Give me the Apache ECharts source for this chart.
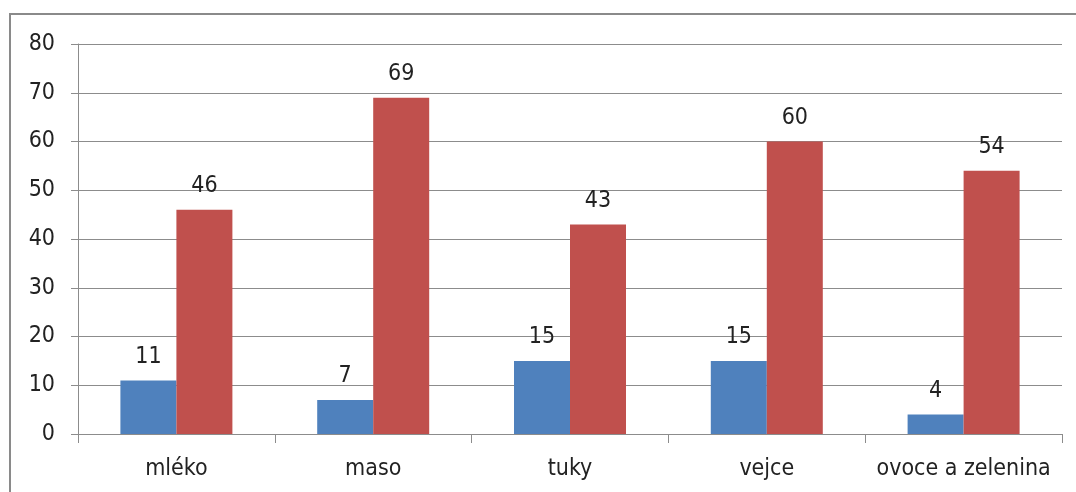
<!DOCTYPE html>
<html lang="cs">
<head>
    <meta charset="UTF-8">
    <title>Chart</title>
    <script src="https://cdn.jsdelivr.net/npm/echarts@6/dist/echarts.min.js"></script>
    <style type="text/css">
        html, body {
            margin: 0;
            height: 100%;
            background: #fff;
        }
    </style>
</head>
<body>

<div id="main" style="width: 1076px;height:492px;"></div>

<script>
    const categories = ['mléko', 'maso', 'tuky', 'vejce', 'ovoce a zelenina'];
    const seriesBlue = [11, 7, 15, 15, 4];
    const seriesRed = [46, 69, 43, 60, 54];

    const font = '"DejaVu Sans Condensed", "DejaVu Sans"';
    const myChart = echarts.init(document.getElementById('main'), null, {renderer: 'canvas'});
    const labelStyle = {
        show: true,
        position: 'top',
        distance: 12,
        color: '#222',
        fontFamily: font,
        fontSize: 23
    };
    const option = {
        animation: false,
        graphic: [{
            type: 'rect',
            shape: {x: 10, y: 14, width: 1200, height: 600},
            style: {fill: 'none', stroke: '#8a8a8a', lineWidth: 2}
        }],
        grid: {left: 78, right: 14, top: 44, bottom: 58},
        xAxis: {
            type: 'category',
            data: categories,
            axisLine: {lineStyle: {color: '#8c8c8c'}},
            axisTick: {show: true, interval: 0, length: 9, lineStyle: {color: '#8c8c8c'}},
            axisLabel: {interval: 0, color: '#222', fontFamily: font, fontSize: 23, margin: 24},
        },
        yAxis: {
            type: 'value',
            min: 0,
            max: 80,
            interval: 10,
            axisLine: {show: true, lineStyle: {color: '#8c8c8c'}},
            axisTick: {show: true, length: 7, lineStyle: {color: '#8c8c8c'}},
            axisLabel: {color: '#222', fontFamily: font, fontSize: 23, margin: 23},
            splitLine: {lineStyle: {color: '#8c8c8c'}}
        },
        series: [
            {
                name: 'a',
                type: 'bar',
                data: seriesBlue,
                barWidth: 56,
                barGap: 0,
                itemStyle: {color: '#4f81bd'},
                label: labelStyle
            },
            {
                name: 'b',
                type: 'bar',
                data: seriesRed,
                barWidth: 56,
                barGap: 0,
                itemStyle: {color: '#c0504d'},
                label: labelStyle
            }
        ]
    };

    myChart.setOption(option);
</script>
</body>
</html>
